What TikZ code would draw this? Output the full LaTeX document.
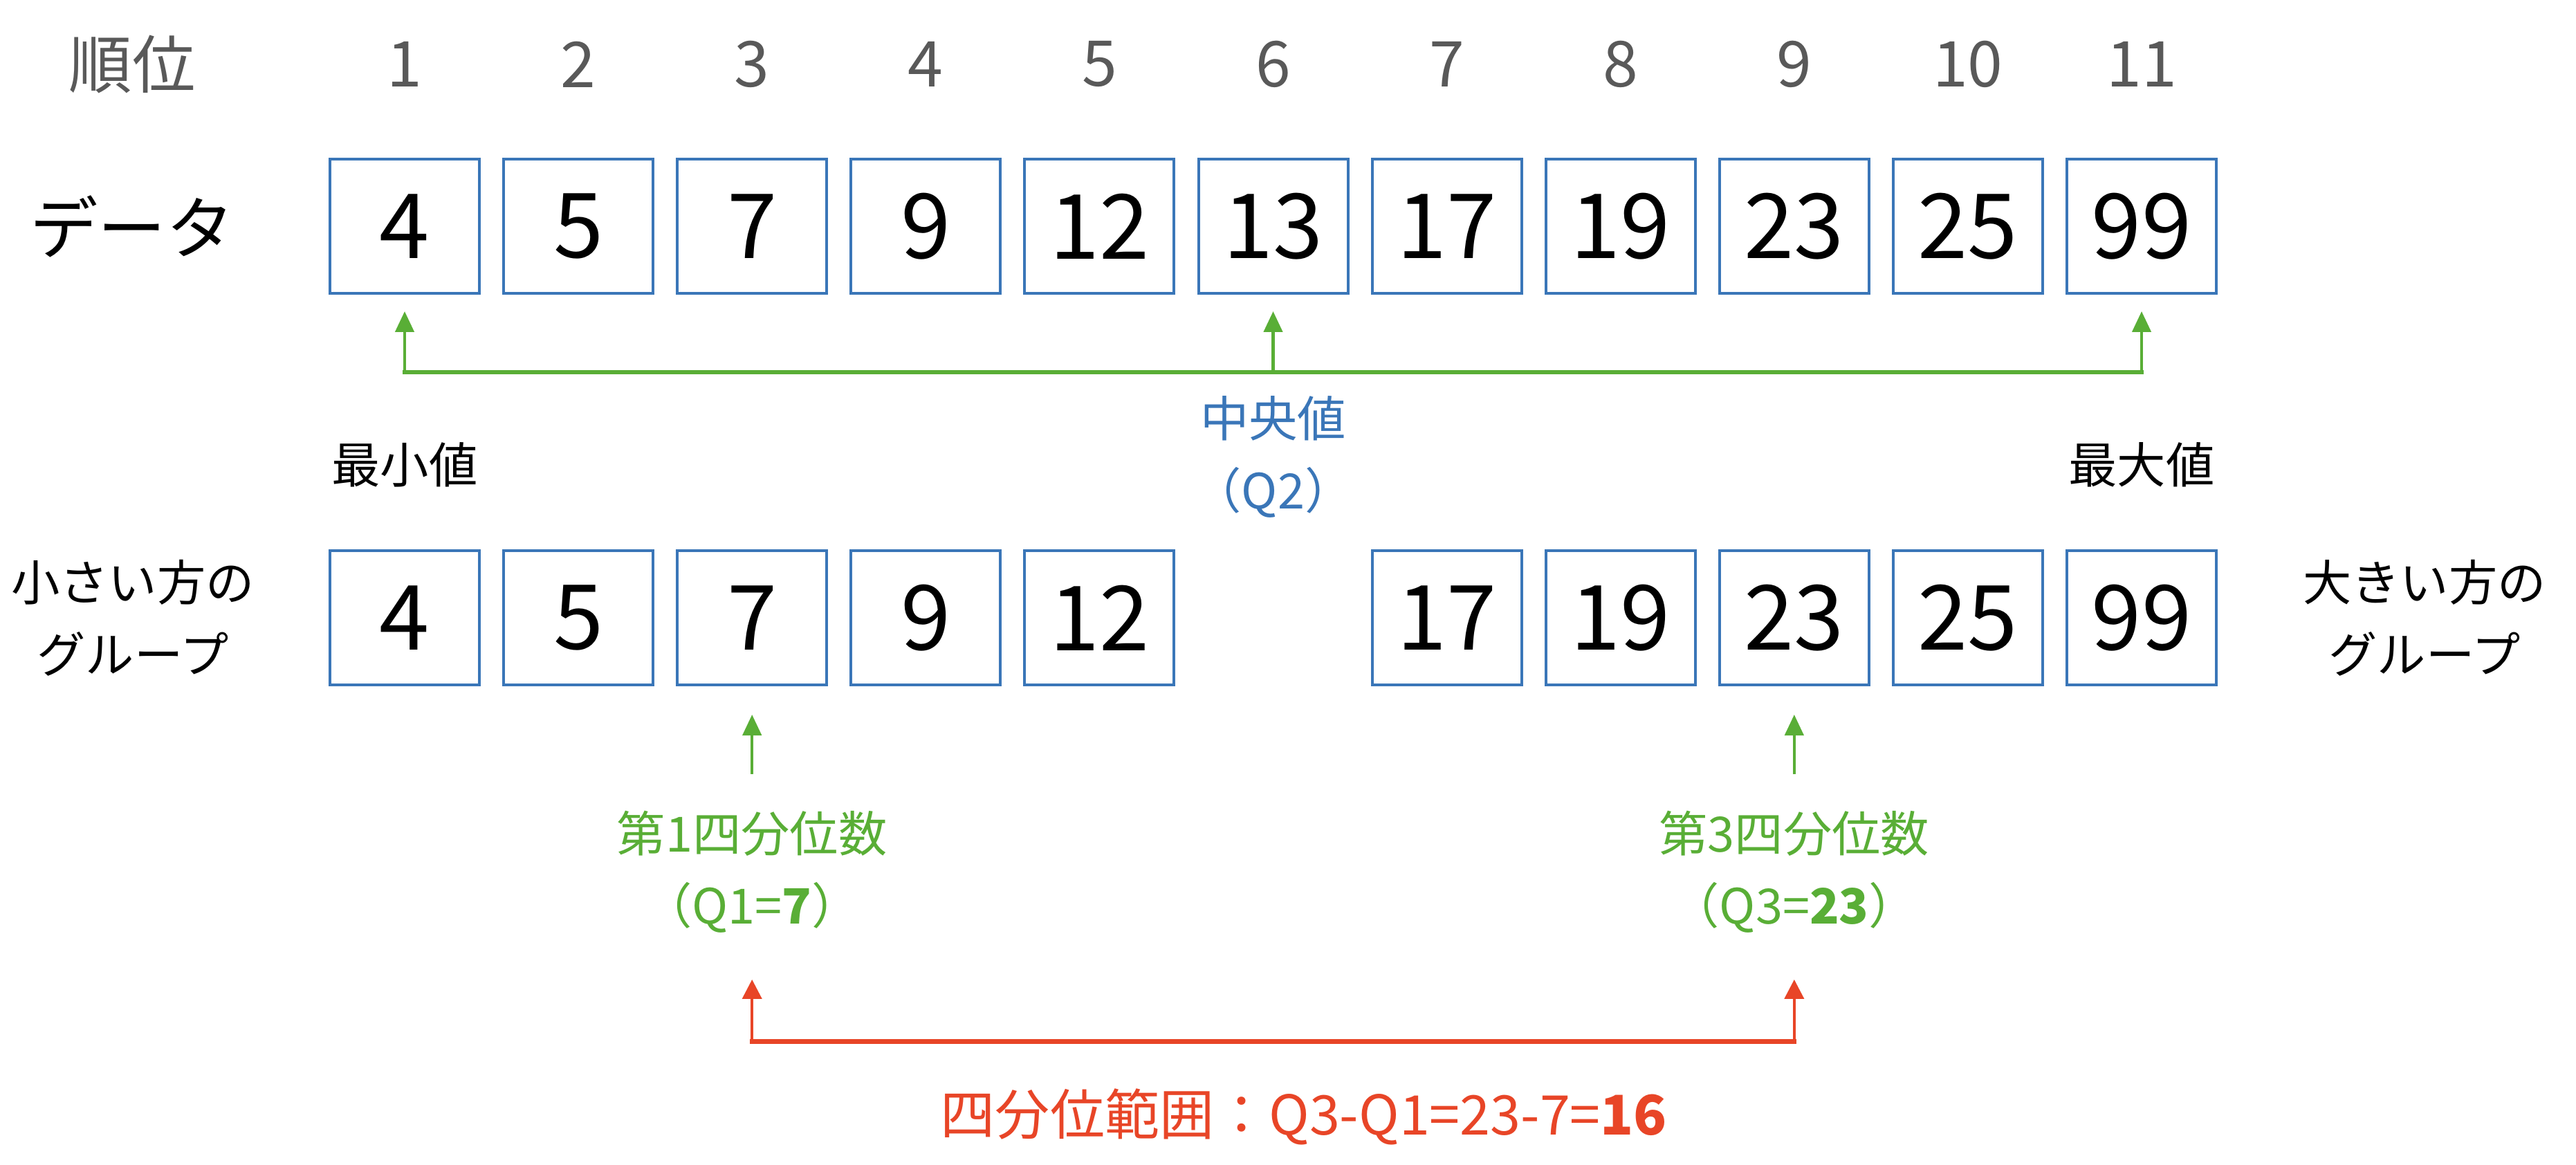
\documentclass[tikz,border=0pt]{standalone}
\usepackage{fontspec}
\newfontfamily\jpfont{Noto Sans CJK JP}
\usepackage{tikz}
\usetikzlibrary{positioning,arrows.meta}

\definecolor{boxblue}{HTML}{3A76B8}
\definecolor{rankgray}{HTML}{595959}
\definecolor{qgreen}{HTML}{59AE36}
\definecolor{iqrred}{HTML}{E84527}

\begin{document}
\begin{tikzpicture}[node distance=2.511cm, on grid, font=\jpfont,
	databox/.style={draw=boxblue, line width=0.04cm, minimum width=2.16cm, minimum height=1.94cm, inner sep=0pt, font=\jpfont\fontsize{37}{40}\selectfont},
	rank/.style={text=rankgray, inner sep=0pt, font=\jpfont\fontsize{26}{30}\selectfont},
	lbl/.style={inner sep=0pt, align=center, font=\jpfont\fontsize{20}{29.6}\selectfont},
	garrow/.style={color=qgreen, line width=0.045cm, -{Triangle[length=0.3cm, width=0.27cm]}},
	gline/.style={color=qgreen, line width=0.06cm, line cap=rect},
	rarrow/.style={color=iqrred, line width=0.04cm, -{Triangle[length=0.28cm, width=0.28cm]}},
	rline/.style={color=iqrred, line width=0.07cm, line cap=rect}]
\useasboundingbox (0,0) rectangle (37.24,-16.84);

% data row
\node[databox]	(d_1)	at (5.85,-3.27)		{4};
\node[databox]	(d_2)	[right=of d_1]		{5};
\node[databox]	(d_3)	[right=of d_2]		{7};
\node[databox]	(d_4)	[right=of d_3]		{9};
\node[databox]	(d_5)	[right=of d_4]		{12};
\node[databox]	(d_6)	[right=of d_5]		{13};
\node[databox]	(d_7)	[right=of d_6]		{17};
\node[databox]	(d_8)	[right=of d_7]		{19};
\node[databox]	(d_9)	[right=of d_8]		{23};
\node[databox]	(d_10)	[right=of d_9]		{25};
\node[databox]	(d_11)	[right=of d_10]		{99};
\node[rank, text=black, font=\jpfont\fontsize{28}{32}\selectfont]	(dl)	[left=3.94cm of d_1]	{データ};

% ranks
\node[rank]		(rk)	[above=2.34cm of dl]	{順位};
\node[rank]		(r_1)	[above=2.34cm of d_1]	{1};
\node[rank]		(r_2)	[above=2.34cm of d_2]	{2};
\node[rank]		(r_3)	[above=2.34cm of d_3]	{3};
\node[rank]		(r_4)	[above=2.34cm of d_4]	{4};
\node[rank]		(r_5)	[above=2.34cm of d_5]	{5};
\node[rank]		(r_6)	[above=2.34cm of d_6]	{6};
\node[rank]		(r_7)	[above=2.34cm of d_7]	{7};
\node[rank]		(r_8)	[above=2.34cm of d_8]	{8};
\node[rank]		(r_9)	[above=2.34cm of d_9]	{9};
\node[rank]		(r_10)	[above=2.34cm of d_10]	{10};
\node[rank]		(r_11)	[above=2.34cm of d_11]	{11};

% min, median, max
\coordinate[below=2.11cm of d_1]	(g_1);
\coordinate[below=2.11cm of d_6]	(g_6);
\coordinate[below=2.11cm of d_11]	(g_11);
\node[lbl]		(mn)	[below=3.45cm of d_1]	{最小値};
\node[lbl, text=boxblue]	(md)	[below=3.33cm of d_6]	{中央値\\（Q2）};
\node[lbl]		(mx)	[below=3.45cm of d_11]	{最大値};
\draw[gline]	(g_1) -- (g_11);
\path	(g_1)	edge	[garrow, shorten >=0.24cm]	(d_1)
		(g_6)	edge	[garrow, shorten >=0.24cm]	(d_6)
		(g_11)	edge	[garrow, shorten >=0.24cm]	(d_11);

% the two halves
\node[databox]	(b_1)	[below=5.66cm of d_1]	{4};
\node[databox]	(b_2)	[right=of b_1]		{5};
\node[databox]	(b_3)	[right=of b_2]		{7};
\node[databox]	(b_4)	[right=of b_3]		{9};
\node[databox]	(b_5)	[right=of b_4]		{12};
\node[databox]	(b_7)	[below=5.66cm of d_7]	{17};
\node[databox]	(b_8)	[right=of b_7]		{19};
\node[databox]	(b_9)	[right=of b_8]		{23};
\node[databox]	(b_10)	[right=of b_9]		{25};
\node[databox]	(b_11)	[right=of b_10]		{99};
\node[lbl]		(sg)	[left=3.93cm of b_1]	{小さい方の\\グループ};
\node[lbl]		(lg)	[right=4.09cm of b_11]	{大きい方の\\グループ};

% quartiles
\node[lbl, text=qgreen]	(q1)	[below=3.67cm of b_3]	{第1四分位数\\（Q1={\bfseries 7}）};
\node[lbl, text=qgreen]	(q3)	[below=3.67cm of b_9]	{第3四分位数\\（Q3={\bfseries 23}）};
\path	(q1)	edge	[garrow, shorten <=0.52cm, shorten >=0.41cm]	(b_3)
		(q3)	edge	[garrow, shorten <=0.52cm, shorten >=0.41cm]	(b_9);

% interquartile range
\coordinate[below=6.12cm of b_3]	(i_1);
\coordinate[below=6.12cm of b_9]	(i_3);
\draw[rline]	(i_1) -- (i_3);
\path	(i_1)	edge	[rarrow, shorten >=0.67cm]	(q1)
		(i_3)	edge	[rarrow, shorten >=0.67cm]	(q3);
\node[lbl, text=iqrred, font=\jpfont\fontsize{22.5}{26}\selectfont]	(iqr)	at (18.85,-16.14)	{四分位範囲：Q3-Q1=23-7={\bfseries 16}};
\end{tikzpicture}
\end{document}
